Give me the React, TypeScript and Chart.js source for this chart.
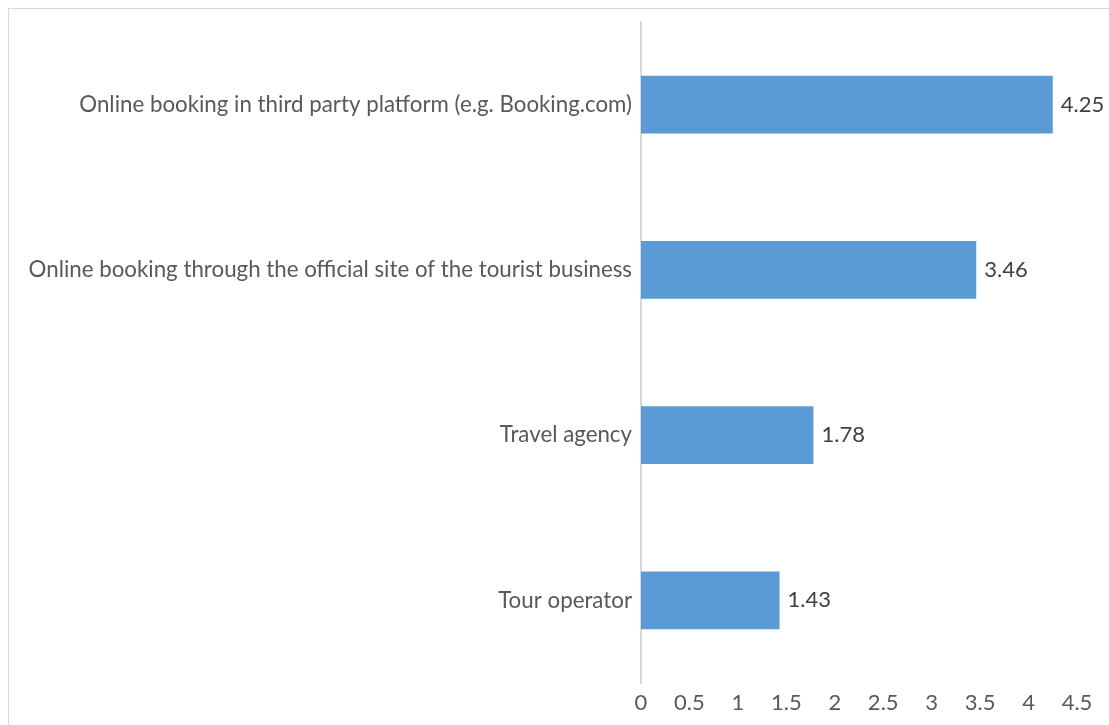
import React, { useEffect, useRef } from "react";
import { Chart, registerables } from "chart.js";

Chart.register(...registerables);

const categories = [
  "Online booking in third party platform (e.g. Booking.com)",
  "Online booking through the official site of the tourist business",
  "Travel agency",
  "Tour operator",
];
const values = [4.25, 3.46, 1.78, 1.43];
const xTicks = [0, 0.5, 1, 1.5, 2, 2.5, 3, 3.5, 4, 4.5];

const FONT = "Lato, 'Open Sans', sans-serif";

const valueLabels = {
  id: "valueLabels",
  afterDatasetsDraw(chart: any) {
    const ctx = chart.ctx;
    const meta = chart.getDatasetMeta(0);
    ctx.save();
    ctx.font = `22px ${FONT}`;
    ctx.fillStyle = "#404040";
    ctx.textAlign = "left";
    ctx.textBaseline = "middle";
    meta.data.forEach((bar: any, i: number) => {
      ctx.fillText(values[i].toFixed(2), bar.x + 8, bar.y);
    });
    ctx.restore();
  },
};

export default function App() {
  const ref = useRef<HTMLCanvasElement>(null);
  useEffect(() => {
    const chart = new Chart(ref.current!, {
      type: "bar",
      data: {
        labels: categories,
        datasets: [
          {
            data: values,
            backgroundColor: "#5b9bd5",
            categoryPercentage: 1,
            barPercentage: 0.35,
          },
        ],
      },
      options: {
        indexAxis: "y",
        animation: false,
        responsive: false,
        maintainAspectRatio: false,
        layout: { padding: { left: 0, top: 13, right: 32, bottom: 0 } },
        plugins: {
          legend: { display: false },
          tooltip: { enabled: false },
        },
        scales: {
          x: {
            min: 0,
            max: 4.5,
            afterBuildTicks: (scale: any) => {
              scale.ticks = xTicks.map((v) => ({ value: v }));
            },
            afterFit: (scale: any) => {
              scale.height = 42;
              scale.paddingLeft = 0;
              scale.paddingRight = 0;
            },
            grid: { display: false, drawTicks: false },
            border: { display: false },
            ticks: {
              padding: 7,
              color: "#595959",
              font: { family: FONT, size: 22 },
              maxRotation: 0,
              autoSkip: false,
              callback: (v: any) => String(v),
            },
          },
          y: {
            afterFit: (scale: any) => {
              scale.width = 632;
              scale.paddingTop = 0;
              scale.paddingBottom = 0;
            },
            grid: { display: false, drawTicks: false },
            border: { display: true, color: "#d9d9d9", width: 2 },
            ticks: {
              padding: 9,
              color: "#595959",
              font: { family: FONT, size: 22.3 },
              autoSkip: false,
            },
          },
        },
      },
      plugins: [valueLabels],
    });
    return () => chart.destroy();
  }, []);
  return (
    <div
      style={{
        position: "absolute",
        left: 8,
        top: 8,
        width: 1101,
        height: 717,
        borderTop: "1px solid #d9d9d9",
        borderLeft: "1px solid #d9d9d9",
        boxSizing: "border-box",
      }}
    >
      <canvas ref={ref} width={1100} height={716} style={{ display: "block" }} />
    </div>
  );
}
